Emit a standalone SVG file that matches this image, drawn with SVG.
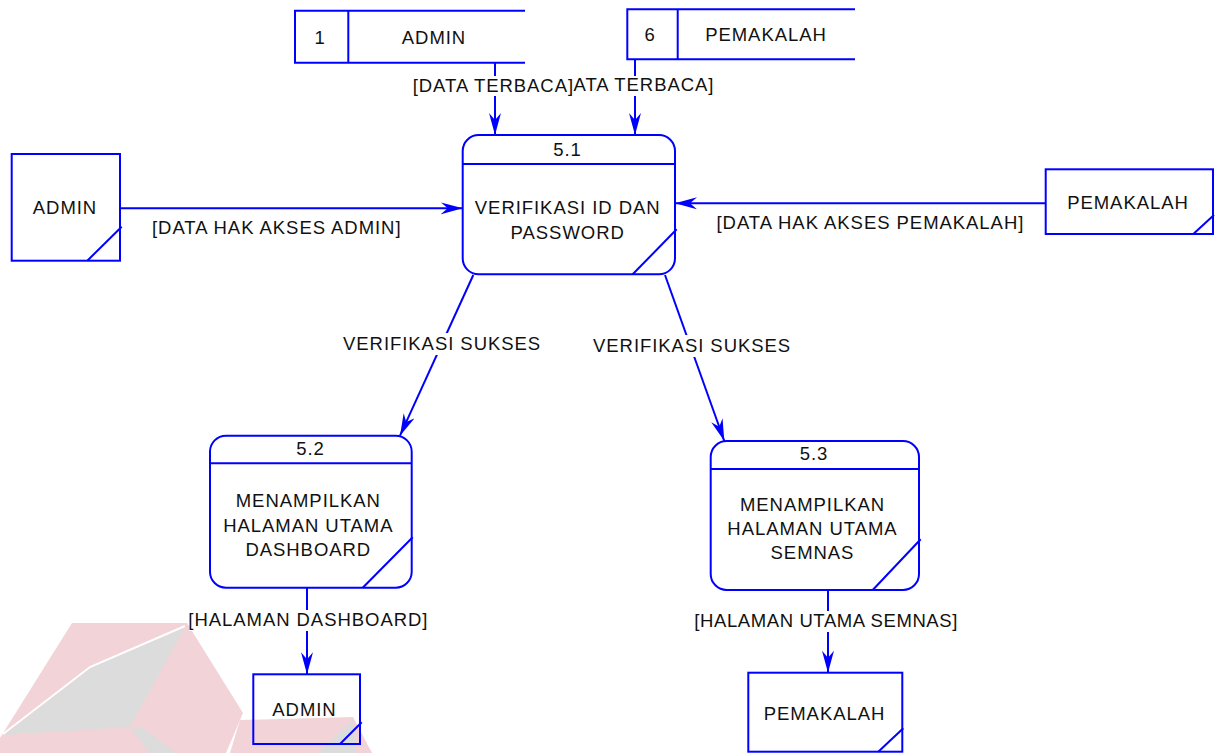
<svg xmlns="http://www.w3.org/2000/svg" width="1221" height="753" viewBox="0 0 1221 753">
  <style>
    .shape { fill: #ffffff; stroke: #0000ff; stroke-width: 2; }
    .open { fill: none; stroke: #0000ff; stroke-width: 2; }
    .edge { fill: none; stroke: #0000ff; stroke-width: 2; marker-end: url(#arrow); }
    .txt { font-family: "Liberation Sans", Arial, sans-serif; font-size: 18.5px; letter-spacing: 0.95px; fill: #111111; }
    .tight { letter-spacing: 0.6px; }
    .mid { text-anchor: middle; }
    .bg { fill: #ffffff; }
  </style>
  <defs>
    <marker id="arrow" markerUnits="userSpaceOnUse" markerWidth="24" markerHeight="14" refX="22" refY="6" orient="auto">
      <path d="M0,0 L22,6 L0,12 L7,6 Z" fill="#0000ff"/>
    </marker>
  </defs>

  <rect width="1221" height="753" fill="#ffffff"/>

  <!-- faint logo in the lower-left corner -->
  <g id="logo">
    <polygon points="72,623 187,623 243,713 226,753 0,753 0,738" fill="#f2d3d8"/>
    <polygon points="185,627 90,668 4,735 130,727" fill="#dcdcdc"/>
    <polygon points="130,727 142,727 175,753 150,753" fill="#dcdcdc"/>
    <polyline points="185,626 90,667 3,734" fill="none" stroke="#ffffff" stroke-width="2"/>
    <polygon points="240,720 353,717 372,753 230,753" fill="#f2d3d8"/>
    <polygon points="353,719 318,753 356,753" fill="#dcdcdc"/>
  </g>

  <!-- data flows -->
  <g id="connectors">
    <path class="edge" d="M495,62.7 V135"/>
    <path class="edge" d="M635,59.3 V135"/>
    <path class="edge" d="M120,208.3 H462.7"/>
    <path class="edge" d="M1045.7,203.3 H675"/>
    <path class="edge" d="M473.3,275 L400,435.7"/>
    <path class="edge" d="M665,275 L724.3,441"/>
    <path class="edge" d="M307,587.7 V674.3"/>
    <path class="edge" d="M828,590 V672.7"/>

    <rect class="bg" x="574" y="76" width="141" height="20"/>
    <text class="txt" x="573.5" y="91">ATA TERBACA]</text>
    <rect class="bg" x="412" y="76" width="161" height="20"/>
    <text class="txt" x="412.7" y="91.5">[DATA TERBACA]</text>
    <text class="txt" x="152" y="233.5">[DATA HAK AKSES ADMIN]</text>
    <text class="txt" x="716.5" y="229">[DATA HAK AKSES PEMAKALAH]</text>
    <rect class="bg" x="342" y="333" width="200" height="22"/>
    <text class="txt" x="343" y="350">VERIFIKASI SUKSES</text>
    <rect class="bg" x="592" y="335" width="199" height="22"/>
    <text class="txt" x="593" y="352">VERIFIKASI SUKSES</text>
    <rect class="bg" x="189" y="610" width="240" height="21"/>
    <text class="txt" x="188.3" y="625.7">[HALAMAN DASHBOARD]</text>
    <rect class="bg" x="694" y="611" width="264" height="21"/>
    <text class="txt tight" x="694.3" y="626.7">[HALAMAN UTAMA SEMNAS]</text>
  </g>

  <!-- data stores -->
  <g id="store-1">
    <path class="open" d="M525,10.7 H295 V62.7 H525 M348.3,10.7 V62.7"/>
    <text class="txt mid" x="320" y="43.5">1</text>
    <text class="txt mid" x="434" y="43.5">ADMIN</text>
  </g>
  <g id="store-6">
    <path class="open" d="M855,9.3 H627.3 V59.3 H855 M677.7,9.3 V59.3"/>
    <text class="txt mid" x="650" y="40.5">6</text>
    <text class="txt mid" x="766" y="40.5">PEMAKALAH</text>
  </g>

  <!-- external entities -->
  <g id="admin-in">
    <rect class="shape" x="11.7" y="154" width="108.3" height="106.7"/>
    <line class="open" x1="87.3" y1="260.7" x2="121.7" y2="226.7"/>
    <text class="txt mid" x="65" y="214">ADMIN</text>
  </g>
  <g id="pemakalah-in">
    <rect class="shape" x="1045.7" y="169.3" width="167.3" height="64.7"/>
    <line class="open" x1="1193.3" y1="234" x2="1214" y2="215"/>
    <text class="txt mid" x="1128" y="209.3">PEMAKALAH</text>
  </g>
  <g id="admin-out">
    <rect class="open" x="253.3" y="674.3" width="106.7" height="69.7"/>
    <line class="open" x1="340" y1="744" x2="361.7" y2="722.3"/>
    <text class="txt mid" x="304.5" y="716" fill="#333333">ADMIN</text>
  </g>
  <g id="pemakalah-out">
    <rect class="open" x="748.3" y="672.7" width="154" height="79"/>
    <line class="open" x1="878.3" y1="751.7" x2="903.3" y2="728.3"/>
    <text class="txt mid" x="824.5" y="720" fill="#333333">PEMAKALAH</text>
  </g>

  <!-- processes -->
  <g id="proc-5-1">
    <rect class="shape" x="462.7" y="135" width="212.3" height="139.3" rx="16" ry="16"/>
    <line class="open" x1="462.7" y1="164" x2="675" y2="164"/>
    <line class="open" x1="632.7" y1="274.3" x2="676.7" y2="229.3"/>
    <text class="txt mid" x="567.5" y="156">5.1</text>
    <text class="txt mid" x="567.7" y="214">VERIFIKASI ID DAN</text>
    <text class="txt mid" x="567.7" y="239">PASSWORD</text>
  </g>
  <g id="proc-5-2">
    <rect class="shape" x="210" y="435.7" width="201.7" height="152" rx="16" ry="16"/>
    <line class="open" x1="210" y1="463.3" x2="411.7" y2="463.3"/>
    <line class="open" x1="362.7" y1="587.7" x2="412.7" y2="537.3"/>
    <text class="txt mid" x="310.5" y="455">5.2</text>
    <text class="txt mid" x="308.3" y="507.3">MENAMPILKAN</text>
    <text class="txt mid" x="308.3" y="531.7">HALAMAN UTAMA</text>
    <text class="txt mid" x="308.3" y="556">DASHBOARD</text>
  </g>
  <g id="proc-5-3">
    <rect class="shape" x="710.7" y="441" width="208.3" height="149" rx="16" ry="16"/>
    <line class="open" x1="710.7" y1="469" x2="919" y2="469"/>
    <line class="open" x1="872.7" y1="590" x2="920.7" y2="539.3"/>
    <text class="txt mid" x="814" y="460">5.3</text>
    <text class="txt mid" x="812.5" y="511">MENAMPILKAN</text>
    <text class="txt mid" x="812.5" y="535.3">HALAMAN UTAMA</text>
    <text class="txt mid" x="812.5" y="559.3">SEMNAS</text>
  </g>
</svg>
